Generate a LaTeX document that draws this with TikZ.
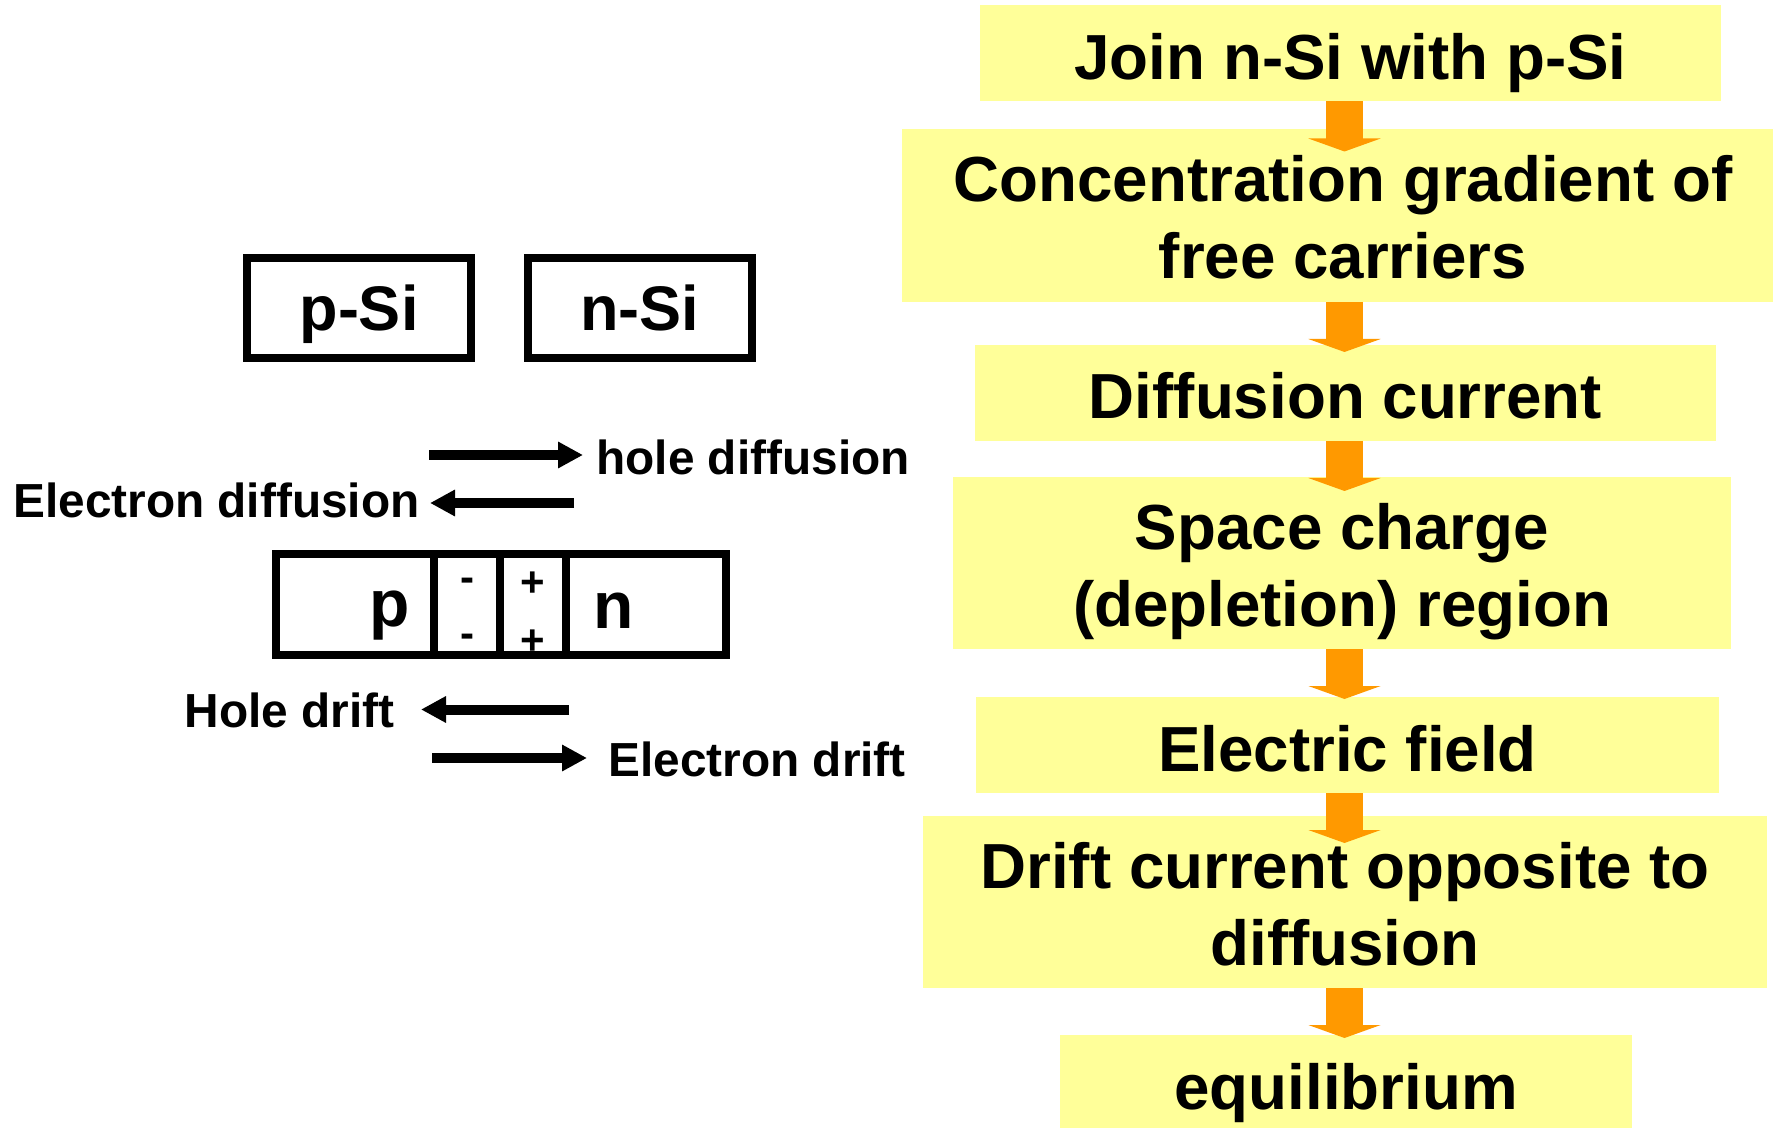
\documentclass[tikz,border=0pt]{standalone}
\usepackage{fontspec}
\setmainfont{Liberation Sans}
\usetikzlibrary{arrows.meta}
\definecolor{flowyellow}{HTML}{FFFF99}
\definecolor{floworange}{HTML}{FF9900}

\begin{document}
\begin{tikzpicture}[x=0.5pt, y=-0.5pt,
  flowbox/.style={fill=flowyellow, inner sep=0pt, outer sep=0pt, align=center, minimum height=48pt, font=\fontsize{31.85}{38.5}\selectfont\bfseries,
    execute at begin node={\rule{0pt}{#1}}, execute at end node={\rule[-9pt]{0pt}{9pt}}},
  flowbox/.default=35pt,
  flowarrow/.style={draw=floworange, line width=18.5pt, -{Triangle[length=6.5pt, width=36pt]}},
  sibox/.style={draw, line width=4pt, minimum width=112pt, minimum height=50pt, text depth=0pt, font=\fontsize{31.5}{38}\selectfont\bfseries},
  junction/.style={draw, line width=4pt, outer sep=0pt, inner sep=0pt, minimum height=50.5pt},
  charge/.style={inner sep=0pt, anchor=base, font=\fontsize{21}{25}\selectfont\bfseries},
  region/.style={inner sep=0pt, anchor=base, font=\fontsize{33}{40}\selectfont\bfseries},
  carrier/.style={inner sep=0pt, font=\fontsize{23.9}{28}\selectfont\bfseries},
  carrierarrow/.style={line width=5pt, -{Triangle[length=12.5pt, width=12.5pt]}}]
\useasboundingbox (0,0) rectangle (1773,1128);
\clip (0,0) rectangle (1773,1128);

% flow chart
\node[name=join, flowbox, minimum width=370.5pt] at (1350.5,53.5) {Join n-Si with p-Si};
\node[name=gradient, flowbox=72.5pt, below of=join, node distance=81pt, xshift=-3.75pt, minimum width=441pt, minimum height=86.5pt]{Concentration gradient of\\free carriers};
\node[name=diffusion, flowbox, below of=gradient, node distance=88.75pt, xshift=1.25pt, minimum width=370.5pt]{Diffusion current};
\node[name=space, flowbox=72.5pt, below of=diffusion, node distance=85pt, xshift=-1.75pt, minimum width=389pt, minimum height=86pt]{Space charge\\(depletion) region};
\node[name=efield, flowbox, below of=space, node distance=91pt, xshift=2.75pt, minimum width=371.5pt]{Electric field};
\node[name=drift, flowbox=72.5pt, below of=efield, node distance=78.5pt, xshift=-1.25pt, minimum width=422pt, minimum height=86pt]{Drift current opposite to\\diffusion};
\node[name=equil, flowbox, below of=drift, node distance=90.5pt, xshift=0.5pt, minimum width=286pt]{equilibrium};

\coordinate (axis) at (1344.5,0);
\draw(join.south -| axis) edge[flowarrow, shorten >=-11.25pt](gradient.north -| axis);
\draw(gradient.south -| axis) edge[flowarrow, shorten >=-3.5pt](diffusion.north -| axis);
\draw(diffusion.south -| axis) edge[flowarrow, shorten >=-7pt](space.north -| axis);
\draw(space.south -| axis) edge[flowarrow, shorten >=-1pt](efield.north -| axis);
\draw(efield.south -| axis) edge[flowarrow, shorten >=-13.5pt](drift.north -| axis);
\draw(drift.south -| axis) edge[flowarrow, shorten >=-1.5pt](equil.north -| axis);

% separate crystals
\node[name=p_si, sibox] at (359,308) {p-Si};
\node[name=n_si, sibox, right of=p_si, node distance=140.25pt] {n-Si};

% junction
\node[name=p_side, junction, minimum width=79.25pt] at (354.75,604.5) {};
\node[name=minus_zone, junction, right of=p_side, node distance=56.125pt, minimum width=33pt] {};
\node[name=plus_zone, junction, right of=minus_zone, node distance=33pt, minimum width=33pt] {};
\node[name=n_side, junction, right of=plus_zone, node distance=56.5pt, minimum width=80pt] {};
\node[name=p_text, region] at ([xshift=17.6pt, yshift=-11.2pt]p_side.center) {p};
\node[name=n_text, region] at ([xshift=-16pt, yshift=-12pt]n_side.center) {n};
\node[name=minus_top, charge] at ([yshift=6.5pt]minus_zone.center) {-};
\node[name=minus_bot, charge] at ([yshift=-21.5pt]minus_zone.center) {-};
\node[name=plus_top, charge] at ([yshift=4pt]plus_zone.center) {+};
\node[name=plus_bot, charge] at ([yshift=-24.75pt]plus_zone.center) {+};

% carrier flows
\node[name=hole_diff, carrier, anchor=west] at (596,457) {hole diffusion};
\node[name=elec_diff, carrier, anchor=east] at (420,500) {Electron diffusion};
\node[name=hole_drift, carrier, anchor=east] at (395,710) {Hole drift};
\node[name=elec_drift, carrier, anchor=west] at (608,759) {Electron drift};
\coordinate (hd_tail) at (429,455);
\coordinate (ed_tail) at (574,503);
\coordinate (hr_tail) at (569,709.5);
\coordinate (er_tail) at (432,758);
\draw(hd_tail) edge[carrierarrow, shorten >=6.5pt](hd_tail -| hole_diff.west);
\draw(ed_tail) edge[carrierarrow, shorten >=5pt](ed_tail -| elec_diff.east);
\draw(hr_tail) edge[carrierarrow, shorten >=13pt](hr_tail -| hole_drift.east);
\draw(er_tail) edge[carrierarrow, shorten >=10.5pt](er_tail -| elec_drift.west);

\end{tikzpicture}
\end{document}
